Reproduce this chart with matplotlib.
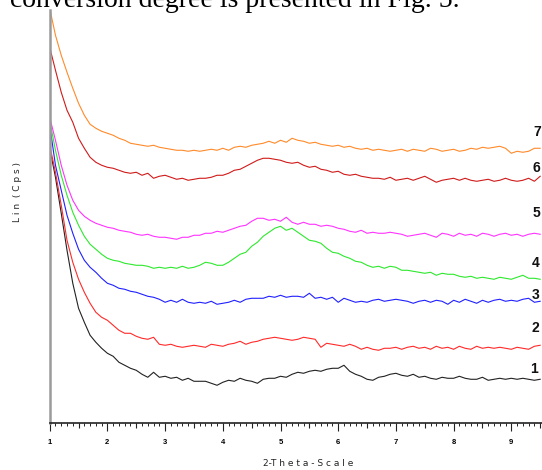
import matplotlib.pyplot as plt
from matplotlib.ticker import MultipleLocator, NullFormatter

# 2-theta positions of the sampled points (degrees)
two_theta = [
    1.0, 1.1, 1.2, 1.3, 1.4, 1.5, 1.6, 1.7, 1.8, 1.9,
    2.0, 2.1, 2.2, 2.3, 2.4, 2.5, 2.6, 2.7, 2.8, 2.9,
    3.0, 3.1, 3.2, 3.3, 3.4, 3.5, 3.6, 3.7, 3.8, 3.9,
    4.0, 4.1, 4.2, 4.3, 4.4, 4.5, 4.6, 4.7, 4.8, 4.9,
    5.0, 5.1, 5.2, 5.3, 5.4, 5.5, 5.6, 5.7, 5.8, 5.9,
    6.0, 6.1, 6.2, 6.3, 6.4, 6.5, 6.6, 6.7, 6.8, 6.9,
    7.0, 7.1, 7.2, 7.3, 7.4, 7.5, 7.6, 7.7, 7.8, 7.9,
    8.0, 8.1, 8.2, 8.3, 8.4, 8.5, 8.6, 8.7, 8.8, 8.9,
    9.0, 9.1, 9.2, 9.3, 9.4, 9.5,
]

# intensities (offset traces, arbitrary units)
sample_1 = [
    275, 246, 210, 173, 140, 115, 101, 88, 81, 75,
    70, 67, 61, 58, 55, 53, 49, 46, 51, 46,
    47, 45, 46, 43, 45, 42, 42, 42, 40, 38,
    41, 43, 42, 45, 43, 42, 40, 44, 45, 45,
    47, 46, 49, 51, 50, 52, 53, 52, 54, 55,
    55, 58, 52, 49, 47, 44, 43, 46, 47, 49,
    50, 48, 47, 49, 46, 47, 45, 44, 46, 45,
    45, 47, 45, 44, 44, 46, 43, 44, 45, 44,
    45, 44, 45, 44, 43, 44,
]
sample_2 = [
    278, 251, 218, 183, 161, 144, 131, 120, 111, 106,
    103, 98, 93, 90, 90, 87, 85, 84, 86, 79,
    78, 79, 77, 76, 77, 78, 77, 76, 79, 78,
    77, 79, 80, 82, 79, 81, 82, 84, 85, 86,
    85, 84, 83, 84, 86, 85, 84, 76, 80, 79,
    78, 77, 79, 77, 74, 76, 74, 73, 75, 75,
    76, 74, 76, 77, 75, 76, 74, 77, 75, 76,
    74, 77, 75, 74, 77, 75, 76, 75, 76, 75,
    74, 76, 75, 74, 77, 78,
]
sample_3 = [
    298, 258, 233, 208, 190, 174, 163, 156, 151, 145,
    140, 138, 135, 134, 132, 131, 129, 127, 126, 124,
    121, 123, 121, 124, 121, 120, 121, 120, 122, 119,
    120, 121, 123, 121, 124, 125, 125, 125, 127, 126,
    128, 126, 127, 127, 126, 130, 125, 126, 124, 126,
    121, 125, 123, 121, 122, 121, 123, 124, 122, 123,
    124, 123, 122, 120, 122, 123, 121, 123, 122, 119,
    123, 121, 124, 122, 120, 123, 121, 123, 124, 122,
    123, 122, 124, 125, 121, 122,
]
sample_4 = [
    303, 273, 248, 228, 211, 198, 187, 179, 174, 169,
    165, 163, 162, 160, 159, 158, 158, 157, 155, 156,
    155, 156, 155, 157, 155, 156, 158, 161, 160, 158,
    158, 161, 165, 169, 171, 177, 181, 187, 191, 195,
    197, 193, 195, 191, 187, 183, 182, 180, 175, 171,
    170, 167, 165, 162, 161, 158, 156, 157, 155, 157,
    156, 153, 153, 152, 151, 150, 151, 148, 150, 149,
    149, 147, 146, 147, 145, 146, 145, 144, 146, 145,
    144, 146, 148, 145, 145, 144,
]
sample_5 = [
    306, 283, 258, 238, 223, 213, 207, 203, 200, 198,
    196, 195, 193, 192, 191, 189, 188, 189, 187, 186,
    186, 185, 184, 186, 186, 188, 188, 190, 190, 192,
    191, 193, 195, 197, 198, 202, 205, 205, 203, 204,
    202, 206, 201, 199, 201, 199, 199, 197, 198, 197,
    195, 194, 192, 191, 193, 190, 191, 190, 190, 191,
    190, 189, 187, 188, 189, 190, 188, 186, 190, 189,
    187, 190, 188, 189, 187, 190, 189, 187, 189, 190,
    188, 189, 187, 189, 190, 189,
]
sample_6 = [
    376, 353, 331, 313, 301, 285, 275, 266, 261, 258,
    256, 255, 253, 251, 250, 251, 248, 250, 245, 247,
    248, 246, 244, 245, 243, 244, 245, 245, 246, 248,
    248, 250, 253, 254, 257, 260, 263, 265, 265, 264,
    263, 261, 260, 261, 258, 256, 257, 254, 253, 251,
    252, 249, 248, 249, 247, 246, 245, 245, 244, 246,
    243, 244, 245, 243, 245, 247, 244, 241, 243, 244,
    245, 243, 245, 243, 242, 243, 244, 242, 243, 245,
    243, 242, 243, 245, 242, 247,
]
sample_7 = [
    415, 388, 368, 351, 335, 320, 308, 299, 295, 292,
    290, 288, 285, 283, 280, 279, 278, 277, 278, 276,
    275, 274, 273, 273, 272, 273, 272, 273, 274, 273,
    275, 273, 276, 277, 276, 278, 279, 280, 282, 280,
    283, 281, 285, 283, 282, 280, 281, 279, 278, 277,
    278, 276, 277, 275, 274, 275, 273, 274, 273, 272,
    273, 274, 272, 274, 273, 272, 275, 274, 272, 273,
    274, 272, 273, 275, 274, 276, 275, 276, 277, 275,
    270, 272, 271, 272, 275, 275,
]

trace_names = ["1", "2", "3", "4", "5", "6", "7"]
traces = [sample_1, sample_2, sample_3, sample_4, sample_5, sample_6, sample_7]
colors = ["#222222", "#ff2a2a", "#2020ff", "#2ee82e", "#ff33ff", "#d01a1a", "#ff8a2a"]
# where the trace numbers sit (2-theta, intensity)
label_x = [9.33, 9.35, 9.35, 9.36, 9.36, 9.37, 9.39]
label_y = [54, 95, 128, 160, 210, 255, 291]

fig = plt.figure(figsize=(5.42, 4.70), dpi=100)
ax = fig.add_axes([0.0917, 0.0994, 0.9083, 0.8794])

for name, ys, c in zip(trace_names, traces, colors):
    ax.plot(two_theta, ys, color=c, lw=0.8)

for name, lx, ly in zip(trace_names, label_x, label_y):
    ax.text(lx, ly, name, fontsize=10, fontweight="bold", ha="left", va="center",
            family=["Liberation Sans Narrow", "Liberation Sans"], color="#111111",
            clip_on=False)

ax.set_xlim(1, 9.532)
ax.set_ylim(0, 413.3)

for s in ["top", "right"]:
    ax.spines[s].set_visible(False)
ax.spines["left"].set_color("#9a9a9a")
ax.spines["left"].set_linewidth(1.8)
ax.spines["bottom"].set_color("#222222")
ax.spines["bottom"].set_linewidth(1.2)

ax.set_yticks([])
ax.xaxis.set_major_locator(MultipleLocator(1))
ax.xaxis.set_minor_locator(MultipleLocator(0.1))
ax.xaxis.set_minor_formatter(NullFormatter())
ax.tick_params(axis="x", which="major", length=6, width=0.8, color="#222222",
               labelsize=5.5, pad=5)
ax.tick_params(axis="x", which="minor", length=2.4, width=0.7, color="#222222")
for lab in ax.get_xticklabels():
    lab.set_fontweight("bold")
    lab.set_family(["Liberation Sans Narrow", "Liberation Sans"])

# medium ticks at the half degrees
mid = ax.secondary_xaxis("bottom")
mid.set_xticks([1.5, 2.5, 3.5, 4.5, 5.5, 6.5, 7.5, 8.5, 9.5])
mid.xaxis.set_major_formatter(NullFormatter())
mid.tick_params(axis="x", length=3.8, width=0.8, color="#222222")
mid.spines["bottom"].set_visible(False)

ax.set_xlabel("2-T h e t a - S c a l e", fontsize=6.5, color="#222222")
ax.xaxis.set_label_coords(0.525, -0.086)
ax.set_ylabel("L i n  ( C p s )", fontsize=6.5, color="#222222")
ax.yaxis.set_label_coords(-0.056, 0.56)

# cut-off line of the surrounding document text
fig.text(10 / 542, 1 - 7.3 / 470, "conversion degree is presented in Fig. 5.",
         family="Liberation Serif", fontsize=20, va="baseline", ha="left")

fig.savefig("out.png", dpi=100)
